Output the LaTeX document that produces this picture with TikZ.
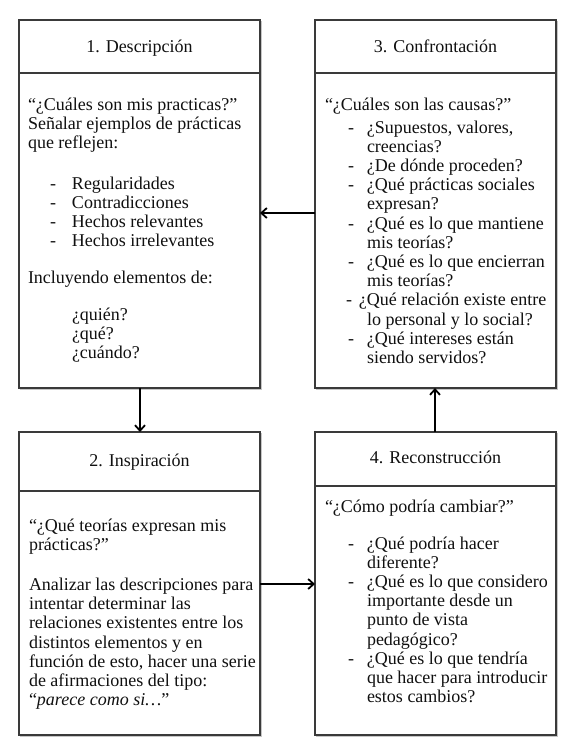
\documentclass[tikz,border=0pt]{standalone}
\usepackage{fontspec}
\setmainfont{Liberation Serif}
\usetikzlibrary{arrows.meta,shadows}
\definecolor{boxline}{HTML}{3A3A3A}
\definecolor{txtcol}{HTML}{101010}
\newcommand{\txtlines}[1]{\begin{tabular}[t]{@{}l@{}}#1\end{tabular}}
\newcommand{\itdash}[1][19pt]{\makebox[#1][l]{-}}
\newcommand{\itind}[1][19pt]{\hspace*{#1}}
\begin{document}
\begin{tikzpicture}[x=1pt,y=-1pt,
  box/.style={draw=boxline, line width=1.1pt, fill=white, inner sep=0pt, outer sep=0pt,
    anchor=north west,
    general shadow={shadow xshift=1.3pt, shadow yshift=-1.3pt, draw=gray!45, line width=1.4pt, fill=none}},
  divider/.style={draw=boxline, line width=1.1pt},
  txt/.style={anchor=base west, inner sep=0pt, outer sep=0pt, text=txtcol,
    font=\fontsize{18}{19.2}\selectfont},
  head/.style={txt, anchor=base},
  arr/.style={draw=black, line width=2.1pt, -{Straight Barb[length=5.5pt,width=10pt,line width=1.8pt]}}
]
\useasboundingbox (0,0) rectangle (568,748);

% boxes
\node[box, minimum width=241pt, minimum height=368pt] (b1) at (19,20) {};
\node[box, minimum width=241pt, minimum height=368pt] (b3) at (315,20) {};
\node[box, minimum width=241pt, minimum height=303pt] (b2) at (19,432) {};
\node[box, minimum width=241pt, minimum height=303pt] (b4) at (315,432) {};

% header dividers
\draw[divider] ([yshift=-53pt]b1.north west) -- ([yshift=-53pt]b1.north east);
\draw[divider] ([yshift=-53pt]b3.north west) -- ([yshift=-53pt]b3.north east);
\draw[divider] ([yshift=-59pt]b2.north west) -- ([yshift=-59pt]b2.north east);
\draw[divider] ([yshift=-54pt]b4.north west) -- ([yshift=-54pt]b4.north east);

% headers
\node[head] (h1) at (139.5,52.5) {1. Descripción};
\node[head] (h3) at (435.5,52.5) {3. Confrontación};
\node[head] (h2) at (139.5,466) {2. Inspiración};
\node[head] (h4) at (435.5,463) {4. Reconstrucción};

% box 1
\node[txt] (t1a) at (28,110) {\txtlines{“¿Cuáles son mis practicas?”\\ Señalar ejemplos de prácticas\\ que reflejen:}};
\node[txt] (t1b) at (50,189) {\txtlines{\itdash[22pt]Regularidades\\ \itdash[22pt]Contradicciones\\ \itdash[22pt]Hechos relevantes\\ \itdash[22pt]Hechos irrelevantes}};
\node[txt] (t1c) at (28,283) {Incluyendo elementos de:};
\node[txt] (t1d) at (72,320) {\txtlines{¿quién?\\ ¿qué?\\ ¿cuándo?}};

% box 3
\node[txt] (t3a) at (325,110.5) {“¿Cuáles son las causas?”};
\node[txt] (t3b) at (348,133) {\txtlines{\itdash¿Supuestos, valores,\\ \itind creencias?\\ \itdash¿De dónde proceden?\\ \itdash¿Qué prácticas sociales\\ \itind expresan?\\ \itdash¿Qué es lo que mantiene\\ \itind mis teorías?\\ \itdash¿Qué es lo que encierran\\ \itind mis teorías?\\ \hspace*{-2pt}\itdash[13pt]¿Qué relación existe entre\\ \itind lo personal y lo social?\\ \itdash¿Qué intereses están\\ \itind siendo servidos?}};

% box 2
\node[txt] (t2a) at (29,531.5) {\txtlines{“¿Qué teorías expresan mis\\ prácticas?”}};
\node[txt] (t2b) at (29,590.5) {\txtlines{Analizar las descripciones para\\ intentar determinar las\\ relaciones existentes entre los\\ distintos elementos y en\\ función de esto, hacer una serie\\ de afirmaciones del tipo:\\ “\textit{parece como si…}”}};

% box 4
\node[txt] (t4a) at (325,512) {“¿Cómo podría cambiar?”};
\node[txt] (t4b) at (348,549) {\txtlines{\itdash¿Qué podría hacer\\ \itind diferente?\\ \itdash¿Qué es lo que considero\\ \itind importante desde un\\ \itind punto de vista\\ \itind pedagógico?\\ \itdash¿Qué es lo que tendría\\ \itind que hacer para introducir\\ \itind estos cambios?}};

% arrows
\draw[arr] (b3.west |- 0,213) -- (b1.east |- 0,213);
\draw[arr] (b1.south -| 140,0) -- (b2.north -| 140,0);
\draw[arr] (b2.east |- 0,584) -- (b4.west |- 0,584);
\draw[arr] (b4.north -| 435,0) -- (b3.south -| 435,0);
\end{tikzpicture}
\end{document}
